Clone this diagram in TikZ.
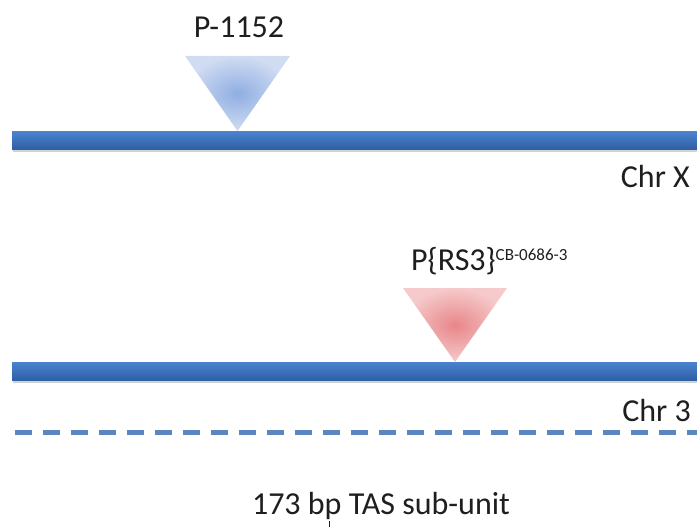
\documentclass[tikz,border=0pt]{standalone}
\usepackage{fontspec}
\setmainfont{Carlito}
\usetikzlibrary{shadings}
\definecolor{bartop}{HTML}{4A82CE}
\definecolor{barbot}{HTML}{2F60A4}
\definecolor{dashblue}{HTML}{5C86C0}
\definecolor{txt}{HTML}{1E1E1E}
\definecolor{bluein}{HTML}{8FAEE2}
\definecolor{blueout}{HTML}{D0DCF2}
\definecolor{redin}{HTML}{E8868A}
\definecolor{redout}{HTML}{F6CACA}
\tikzset{
  lbl/.style={font=\fontsize{32}{36}\selectfont, text=txt, inner sep=0pt},
  chrbar/.style={top color=bartop, bottom color=barbot, draw=none},
  barshadow/.style={fill=black!18, draw=none},
}
\begin{document}
\begin{tikzpicture}[x=1pt,y=-1pt]
\useasboundingbox (0,0) rectangle (697,527);
% Chr X
\fill[barshadow] (13,134) rectangle (697,152);
\shade[chrbar] (12,132) rectangle (697,149);
\shade[inner color=bluein, outer color=blueout] (185,56) -- (290,56) -- (237.5,131) -- cycle;
\node[lbl, anchor=center] (p1152) at (239,27) {P-1152};
\node[lbl, anchor=east] (chrx) at (690,176) {Chr X};
% Chr 3
\fill[barshadow] (13,364) rectangle (697,383);
\shade[chrbar] (12,362) rectangle (697,380);
\shade[inner color=redin, outer color=redout] (403,288) -- (507,288) -- (455,362) -- cycle;
\node[lbl, anchor=west] (prs3) at (411,261) {P\{RS3\}\raisebox{10pt}{\fontsize{17}{19}\selectfont CB-0686-3}};
\node[lbl, anchor=east] (chr3) at (691,410) {Chr 3};
% dashed TAS line
\coordinate (dl) at (15,432);
\coordinate (dr) at (697,432);
\draw[dashblue, line width=5pt, dash pattern=on 17pt off 11pt] (dl) -- (dr);
\node[lbl, anchor=center] (tas) at (381,506) {173 bp TAS sub-unit};
\coordinate (tk1) at (329,521);
\coordinate (tk2) at (329,527);
\draw[txt, line width=1pt] (tk1) -- (tk2);
\end{tikzpicture}
\end{document}
